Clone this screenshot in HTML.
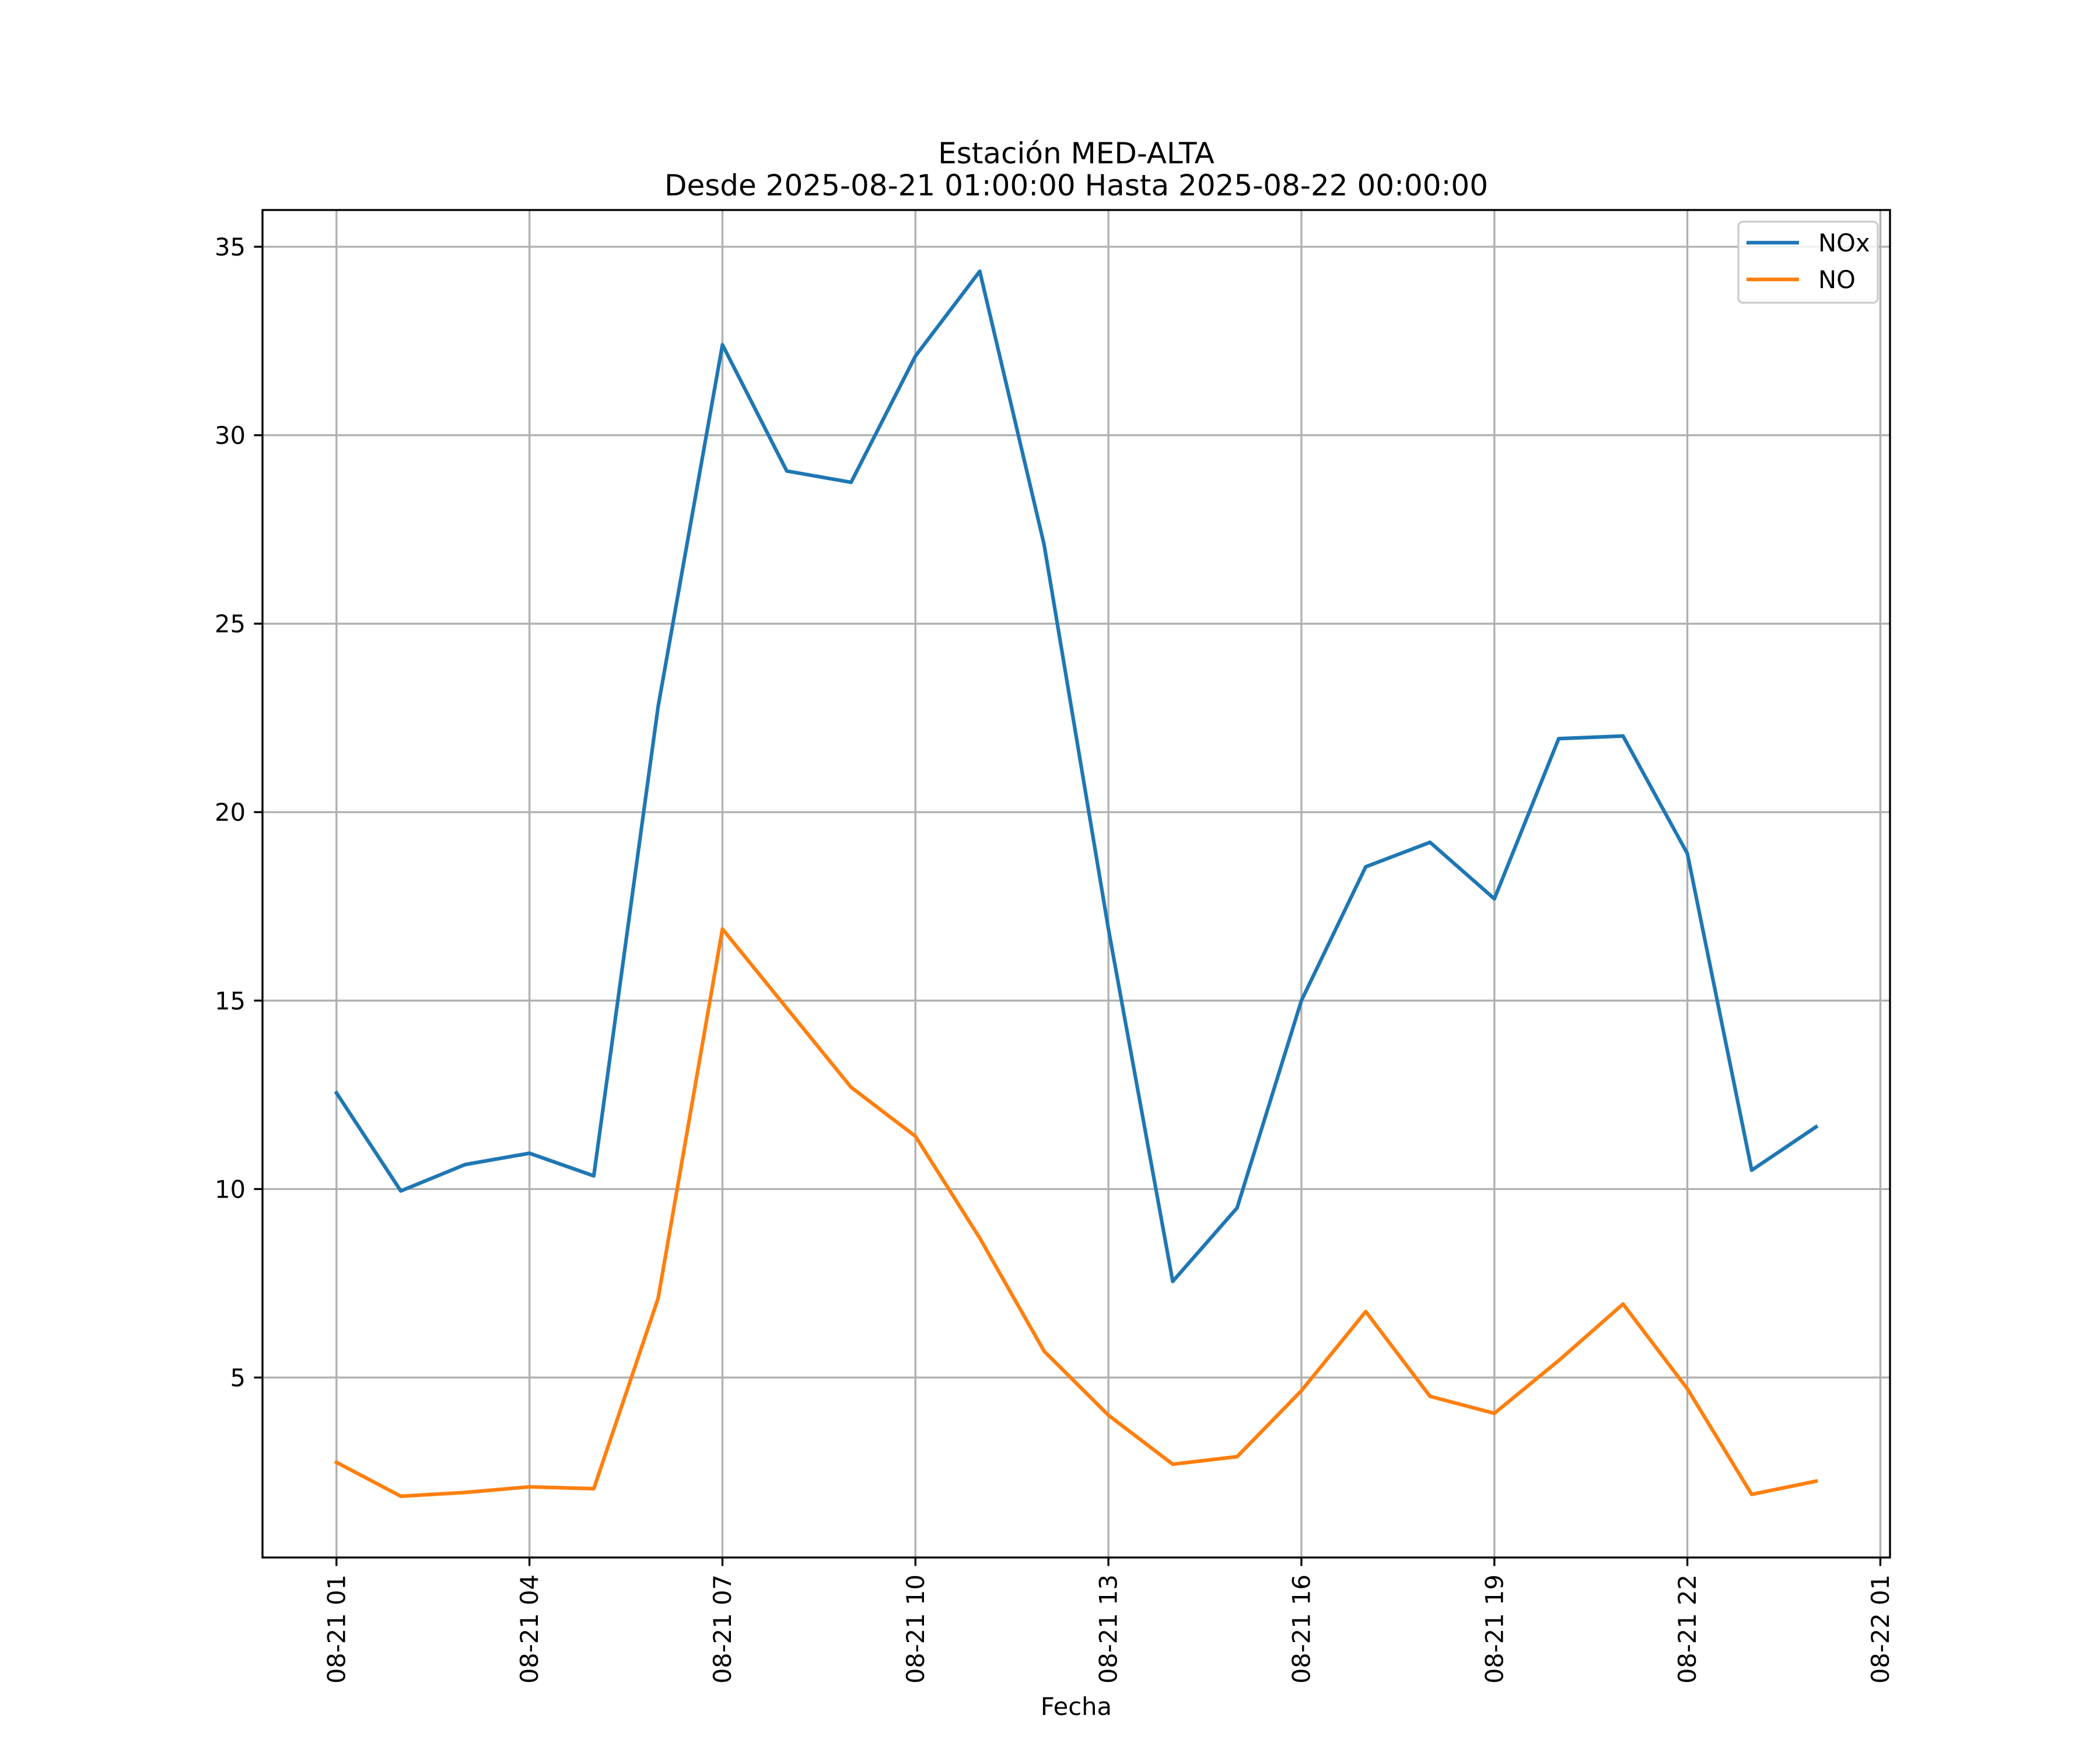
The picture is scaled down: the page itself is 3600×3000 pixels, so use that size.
<!DOCTYPE html>
<html><head><meta charset="utf-8"><style>html,body{margin:0;padding:0;background:#fff}svg{display:block}text{font-family:"DejaVu Sans","Liberation Sans",sans-serif}</style></head>
<body>
<svg id="chart" width="3600" height="3000" viewBox="0 0 3600 3000" xmlns="http://www.w3.org/2000/svg">
<rect width="3600" height="3000" fill="#fff"/>
<g id="grid"></g>
<g id="series"></g>
<rect x="450" y="360" width="2790" height="2310" fill="none" stroke="#000" stroke-width="3.33"/>
<g id="ticks"></g>
<text x="1845" y="280" font-size="50" text-anchor="middle">Estación MED-ALTA</text>
<text x="1845" y="335" font-size="50" text-anchor="middle">Desde 2025-08-21 01:00:00 Hasta 2025-08-22 00:00:00</text>
<text x="1845" y="2940" font-size="41.67" text-anchor="middle">Fecha</text>
<g>
<rect x="2980" y="380" width="239" height="139" rx="8" fill="#fff" fill-opacity="0.8" stroke="#cccccc" stroke-width="3.33"/>
<line x1="2994" y1="416" x2="3084" y2="416" stroke="#1f77b4" stroke-width="6.25"/>
<text x="3117" y="431" font-size="41.67">NOx</text>
<line x1="2994" y1="479" x2="3084" y2="479" stroke="#ff7f0e" stroke-width="6.25"/>
<text x="3117" y="494" font-size="41.67">NO</text>
</g>
</svg>
<script>
const hours = [1,2,3,4,5,6,7,8,9,10,11,12,13,14,15,16,17,18,19,20,21,22,23,24];
const noxValues = [12.55,9.95,10.65,10.95,10.35,22.8,32.4,29.05,28.75,32.1,34.35,27.1,16.9,7.55,9.5,15.0,18.55,19.2,17.7,21.95,22.02,18.9,10.5,11.65];
const noValues = [2.75,1.85,1.95,2.1,2.05,7.1,16.9,14.8,12.7,11.4,8.7,5.7,4.0,2.7,2.9,4.65,6.75,4.5,4.05,5.45,6.95,4.7,1.9,2.25];
const xTickHours = [1,4,7,10,13,16,19,22,25];
const xTickLabels = ["08-21 01","08-21 04","08-21 07","08-21 10","08-21 13","08-21 16","08-21 19","08-21 22","08-22 01"];
const yTicks = [5,10,15,20,25,30,35];

const NS="http://www.w3.org/2000/svg";
const L=450,R=3240,T=360,B=2670;
const xmin=hours[0], xmax=hours[hours.length-1], xm=(xmax-xmin)*0.05;
const allV=noxValues.concat(noValues);
const vmin=Math.min(...allV), vmax=Math.max(...allV), ym=(vmax-vmin)*0.05;
const X=h=>L+(h-(xmin-xm))/((xmax+xm)-(xmin-xm))*(R-L);
const Y=v=>B-(v-(vmin-ym))/((vmax+ym)-(vmin-ym))*(B-T);
function mk(tag,attrs,parent){const e=document.createElementNS(NS,tag);for(const k in attrs)e.setAttribute(k,attrs[k]);parent.appendChild(e);return e;}
const grid=document.getElementById('grid'),ticks=document.getElementById('ticks'),series=document.getElementById('series');
xTickHours.forEach((h,i)=>{
  const x=X(h);
  const g=mk('line',{x1:x,x2:x,y1:T,y2:B,stroke:'#b0b0b0','stroke-width':3.33},grid);
  
  
  const t=mk('line',{x1:x,x2:x,y1:B,y2:B+14.6,stroke:'#000','stroke-width':3.33},ticks);
  
  
  const lb=mk('text',{x:x,y:2699,'font-size':41.67,'text-anchor':'end','dominant-baseline':'central',transform:`rotate(-90 ${x} 2699)`},ticks);
  lb.textContent=xTickLabels[i];
  
  
});
yTicks.forEach(v=>{
  const y=Y(v);
  const g=mk('line',{x1:L,x2:R,y1:y,y2:y,stroke:'#b0b0b0','stroke-width':3.33},grid);
  
  
  const t=mk('line',{x1:L-14.6,x2:L,y1:y,y2:y,stroke:'#000','stroke-width':3.33},ticks);
  
  
  const lb=mk('text',{x:421,y:y+15,'font-size':41.67,'text-anchor':'end'},ticks);
  lb.textContent=String(v);
  
  
});
function line(vals,color,name){
  const p=mk('polyline',{points:vals.map((v,i)=>X(hours[i])+','+Y(v)).join(' '),fill:'none',stroke:color,'stroke-width':6.25,'stroke-linejoin':'round','stroke-linecap':'square'},series);
  
  
}
line(noxValues,'#1f77b4','nox-line');
line(noValues,'#ff7f0e','no-line');
</script>
</body></html>
